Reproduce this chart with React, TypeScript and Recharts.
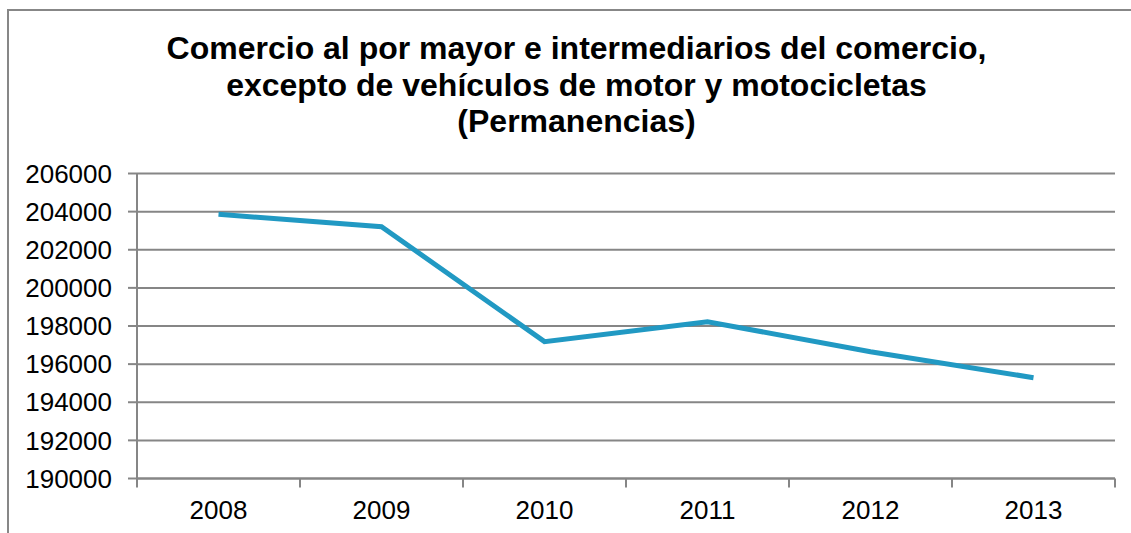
import React, { useLayoutEffect } from 'react';
import { LineChart, Line, XAxis, YAxis, CartesianGrid } from 'recharts';

const years = ['2008', '2009', '2010', '2011', '2012', '2013'];
const permanencias = [203860, 203210, 197180, 198225, 196650, 195290];
const yTicks = [190000, 192000, 194000, 196000, 198000, 200000, 202000, 204000, 206000];
const titleLines = [
  'Comercio al por mayor e intermediarios del comercio,',
  'excepto de vehículos de motor y motocicletas',
  '(Permanencias)',
];

const data = years.map((y, i) => ({ year: y, value: permanencias[i] }));

const W = 1131;
const H = 533;
const M_TOP = 173.5;
const M_RIGHT = 16;
const Y_AXIS_W = 137;
const X_AXIS_H = 54.5;
const PLOT_W = W - M_RIGHT - Y_AXIS_W;
const HALF = PLOT_W / years.length / 2;
const FONT = '"Liberation Sans", Arial, sans-serif';
const GRID = '#868686';

const XTick = (props: any) => {
  const { x, y, payload, index } = props;
  return (
    <g>
      <line x1={x - HALF} x2={x - HALF} y1={y} y2={y + 9} stroke={GRID} strokeWidth={2} />
      {index === years.length - 1 && (
        <line x1={x + HALF} x2={x + HALF} y1={y} y2={y + 9} stroke={GRID} strokeWidth={2} />
      )}
      <text x={x} y={y + 40} textAnchor="middle" fill="#000" fontSize={26} fontFamily={FONT}>
        {payload.value}
      </text>
    </g>
  );
};

export default function App() {
  useLayoutEffect(() => {
    document.documentElement.style.overflow = 'hidden';
    document.body.style.overflow = 'hidden';
  }, []);
  return (
    <div style={{ position: 'absolute', left: 0, top: 0, width: W, height: H, overflow: 'hidden', background: '#fff' }}>
      <div
        style={{
          position: 'absolute',
          left: 7,
          top: 9,
          width: W,
          height: H,
          borderLeft: '2px solid #878787',
          borderTop: '2px solid #878787',
          boxSizing: 'border-box',
        }}
      />
      <div
        style={{
          position: 'absolute',
          left: 0,
          top: 30,
          width: 1153,
          textAlign: 'center',
          fontFamily: FONT,
          fontWeight: 'bold',
          fontSize: 32,
          lineHeight: '36.5px',
          color: '#000',
        }}
      >
        {titleLines.map((t) => (
          <div key={t}>{t}</div>
        ))}
      </div>
      <div style={{ position: 'absolute', left: 0, top: 0 }}>
        <LineChart width={W} height={H} data={data} margin={{ top: M_TOP, right: M_RIGHT, bottom: 0, left: 0 }}>
          <CartesianGrid horizontal vertical={false} stroke={GRID} strokeWidth={2} />
          <XAxis
            dataKey="year"
            height={X_AXIS_H}
            padding={{ left: HALF, right: HALF }}
            axisLine={{ stroke: GRID, strokeWidth: 2 }}
            tickLine={false}
            tickSize={0}
            tickMargin={0}
            interval={0}
            tick={<XTick />}
          />
          <YAxis
            width={Y_AXIS_W}
            domain={[190000, 206000]}
            ticks={yTicks}
            interval={0}
            axisLine={{ stroke: GRID, strokeWidth: 2 }}
            tickLine={{ stroke: GRID, strokeWidth: 2 }}
            tickSize={9}
            tickMargin={16}
            tick={{ fill: '#000', fontSize: 26, fontFamily: FONT }}
          />
          <Line
            type="linear"
            dataKey="value"
            stroke="#2199C3"
            strokeWidth={5}
            dot={false}
            activeDot={false}
            isAnimationActive={false}
          />
        </LineChart>
      </div>
      <div
        style={{
          position: 'absolute',
          left: 1120,
          top: 11,
          width: 11,
          height: 150,
          background: '#fff',
          zIndex: 5,
        }}
      />
    </div>
  );
}
